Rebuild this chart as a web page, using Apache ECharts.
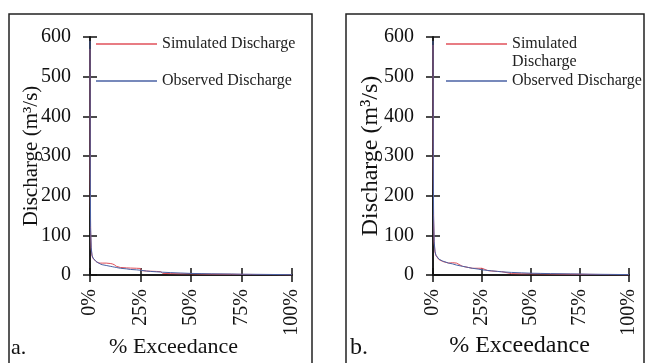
<!DOCTYPE html>
<html><head><meta charset="utf-8">
<script src="https://cdn.jsdelivr.net/npm/echarts@6/dist/echarts.min.js"></script>
<style>html,body{margin:0;padding:0;background:#fff}#c{width:646px;height:363px}</style>
</head><body><div id="c"></div>
<script>
// % exceedance (shared x positions)
const exceedance = [0, 0.1, 0.3, 0.6, 1, 1.5, 2, 3, 4, 5, 6, 8, 10, 11, 12, 13, 15, 18, 20, 23, 25, 25.5, 28, 30, 33, 35, 36, 40, 45, 50, 55, 60, 70, 75, 80, 90, 100];
// Panel a
const simA = [570, 250, 110, 65, 48, 42, 38, 34, 31, 30, 30, 30, 29, 28, 26, 22, 19, 18, 17.5, 17, 16.5, 11, 10, 9.5, 9, 8.5, 4, 3.5, 3, 3, 2.5, 2.2, 1.8, 1.5, 1.3, 1, 0.5];
const obsA = [590, 300, 120, 70, 50, 43, 39, 34, 31, 28, 26, 24, 22, 21, 20, 19, 17, 15.5, 14, 13, 12, 11.5, 10, 9, 8, 7.5, 7, 6, 5, 4, 3.5, 3, 2.5, 2, 1.8, 1.3, 0.8];
// Panel b
const simB = [580, 320, 140, 80, 58, 49, 44, 39, 36, 34, 32, 30, 31, 31, 30, 25, 22, 19, 17, 17, 17, 12, 11, 10, 9, 8.5, 4, 3.5, 3, 3, 2.8, 2.5, 2, 1.8, 1.5, 1, 0.5];
const obsB = [590, 350, 150, 85, 60, 50, 45, 40, 37, 35, 33, 30, 28, 26, 25, 24, 22, 19, 17, 15, 13, 13, 11.5, 10.5, 9, 8, 7.5, 6.5, 5.5, 4.5, 4, 3.5, 2.8, 2.5, 2, 1.5, 1];
const seriesNames = ['Simulated Discharge', 'Observed Discharge'];
const panelLabels = ['a.', 'b.'];
const xTitle = '% Exceedance';
const yTitle = 'Discharge (m³/s)';

const FONT = 'Liberation Serif';
const INK = '#111';
const RED = '#e0505a';
const BLUE = '#4a62a4';

function pairs(xs, ys) { return xs.map((x, i) => [x, ys[i]]); }

const grids = [
  {left: 90, right: 354, top: 37, bottom: 87},
  {left: 433, right: 17, top: 37, bottom: 87}
];
const xNameCfg = [{gap: 61, size: 22, pad: [0, 35, 0, 0]}, {gap: 59, size: 24, pad: [0, 23, 0, 0]}];
const yNameCfg = [{gap: 48, size: 21}, {gap: 50, size: 24}];

const xAxis = [], yAxis = [];
grids.forEach((g, i) => {
  const base = {
    gridIndex: i, type: 'value', min: 0, max: 100, interval: 25,
    axisLine: {lineStyle: {color: INK, width: 1.5}},
    splitLine: {show: false}
  };
  xAxis.push(Object.assign({}, base, {
    axisTick: {length: 7, lineStyle: {color: INK, width: 1.5}},
    axisLabel: {rotate: 90, margin: 14, fontSize: 20, fontFamily: FONT, color: INK, formatter: '{value}%'},
    name: xTitle, nameLocation: 'middle', nameGap: xNameCfg[i].gap, nameMoveOverlap: false,
    nameTextStyle: {fontSize: xNameCfg[i].size, fontFamily: FONT, color: INK, padding: xNameCfg[i].pad}
  }));
  xAxis.push(Object.assign({}, base, {
    position: 'bottom',
    axisTick: {inside: true, length: 7, lineStyle: {color: INK, width: 1.5}},
    axisLabel: {show: false}
  }));
  const ybase = {
    gridIndex: i, type: 'value', min: 0, max: 600, interval: 100,
    axisLine: {show: true, lineStyle: {color: INK, width: 1.5}},
    splitLine: {show: false}
  };
  yAxis.push(Object.assign({}, ybase, {
    axisTick: {show: true, length: 7, lineStyle: {color: INK, width: 1.5}},
    axisLabel: {margin: 19, fontSize: 20, fontFamily: FONT, color: INK},
    name: yTitle, nameLocation: 'middle', nameGap: yNameCfg[i].gap, nameMoveOverlap: false,
    nameTextStyle: {fontSize: yNameCfg[i].size, fontFamily: FONT, color: INK}
  }));
  yAxis.push(Object.assign({}, ybase, {
    position: 'left',
    axisTick: {show: true, inside: true, length: 7, lineStyle: {color: INK, width: 1.5}},
    axisLabel: {show: false}
  }));
});

const data = [[simA, obsA], [simB, obsB]];
const series = [];
data.forEach((pair, i) => {
  pair.forEach((ys, k) => {
    series.push({
      name: seriesNames[k], type: 'line', xAxisIndex: i * 2, yAxisIndex: i * 2,
      data: pairs(exceedance, ys), showSymbol: false, symbol: 'none',
      lineStyle: {color: k === 0 ? RED : BLUE, width: 1},
      itemStyle: {color: k === 0 ? RED : BLUE},
      animation: false, z: 3 + k
    });
  });
});

const legText = {fontSize: 16, fontFamily: FONT, color: '#222', lineHeight: 18};
const legBase = {orient: 'vertical', icon: 'rect', itemWidth: 61, itemHeight: 1.5, selectedMode: false, padding: 0, itemStyle: {borderWidth: 0}};
const legend = [
  Object.assign({}, legBase, {left: 96, top: 35, itemGap: 19, data: seriesNames, textStyle: legText}),
  Object.assign({}, legBase, {left: 446, top: 17, data: [seriesNames[0]], formatter: () => '\nSimulated\nDischarge', textStyle: legText}),
  Object.assign({}, legBase, {left: 446, top: 72, data: [seriesNames[1]], textStyle: legText})
];

const graphic = [
  {type: 'rect', shape: {x: 9, y: 14, width: 303, height: 360}, style: {fill: 'none', stroke: '#222', lineWidth: 1.5}},
  {type: 'rect', shape: {x: 346, y: 14, width: 298, height: 360}, style: {fill: 'none', stroke: '#222', lineWidth: 1.5}},
  {type: 'text', x: 11, y: 348, style: {text: panelLabels[0], font: '22px "Liberation Serif"', fill: INK, verticalAlign: 'middle'}},
  {type: 'text', x: 350, y: 348, style: {text: panelLabels[1], font: '24px "Liberation Serif"', fill: INK, verticalAlign: 'middle'}}
];

const chart = echarts.init(document.getElementById('c'), null, {renderer: 'canvas'});
chart.setOption({animation: false, backgroundColor: '#fff', grid: grids, xAxis, yAxis, series, legend, graphic});
</script></body></html>
